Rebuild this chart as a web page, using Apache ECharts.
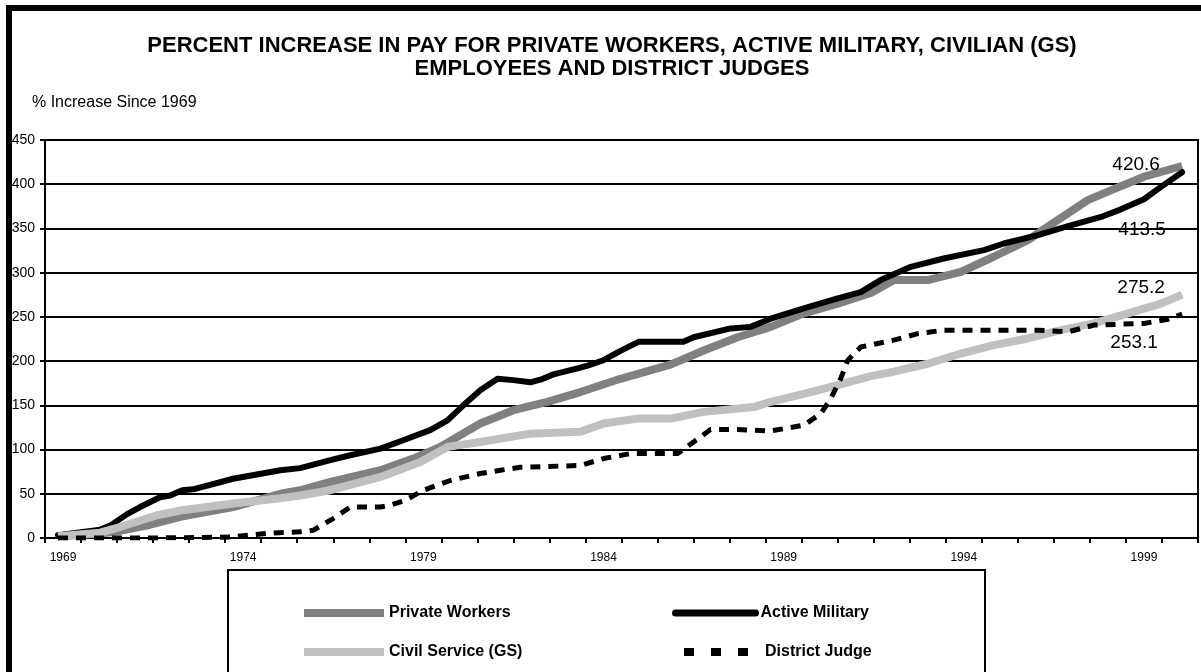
<!DOCTYPE html>
<html>
<head>
<meta charset="utf-8">
<script src="https://cdn.jsdelivr.net/npm/echarts@6/dist/echarts.min.js"></script>
<style>
  html, body { margin: 0; padding: 0; background: #fff; }
  #chart { width: 1201px; height: 672px; }
</style>
</head>
<body>
<div id="chart"></div>
<script>
// year categories for the axis ticks / labels
const yearLabels = ['1969','1970','1971','1972','1973','1974','1975','1976','1977','1978',
  '1979','1980','1981','1982','1983','1984','1985','1986','1987','1988','1989','1990',
  '1991','1992','1993','1994','1995','1996','1997','1998','1999','2000'];

// Private workers
const privateYears = [1969.36, 1970.53, 1971.08, 1971.92, 1972.75, 1974.22, 1975.53, 1976.08, 1976.92, 1978.31,
  1979.22, 1979.97, 1981.08, 1982.0, 1982.94, 1983.86, 1984.97, 1986.36, 1987.28, 1988.22,
  1989.14, 1990.06, 1991.0, 1991.92, 1992.56, 1993.5, 1994.42, 1995.33, 1996.28, 1996.83,
  1997.39, 1997.94, 1998.58, 1999.5, 2000.56];
const privateValues = [2, 5, 8, 15, 24, 35, 50, 54, 63.4, 76.6,
  89.8, 103, 129.4, 144.5, 154, 165, 180, 196, 212, 227,
  238.7, 254, 265, 277, 291.6, 291.6, 301, 318, 336.8, 352,
  367, 382, 393, 408.5, 420.6];

// Active military
const militaryYears = [1969.36, 1970.53, 1970.81, 1971.28, 1971.64, 1972.19, 1972.47, 1972.81, 1973.11, 1974.22,
  1975.53, 1976.08, 1976.92, 1977.47, 1978.31, 1978.94, 1979.69, 1980.17, 1980.61, 1981.08,
  1981.56, 1982.0, 1982.47, 1982.75, 1983.11, 1983.78, 1984.06, 1984.5, 1984.97, 1985.47,
  1986.72, 1987.0, 1988.03, 1988.58, 1989.14, 1990.06, 1991.0, 1991.64, 1992.19, 1993.03,
  1993.94, 1995.06, 1995.61, 1996.56, 1997.39, 1998.31, 1998.86, 1999.5, 1999.97, 2000.56];
const militaryValues = [3, 9.5, 14, 27, 35, 46, 48, 54, 55, 67,
  76.6, 79, 88, 93.6, 101, 110.5, 122, 133, 150, 167,
  180, 178.5, 176, 179, 185, 191.7, 195, 201, 211.6, 221.8,
  221.8, 227, 237, 238.7, 248, 259.6, 271, 278, 291.6, 306.6,
  316, 325.5, 333, 342.5, 352.7, 363, 371.6, 383, 397, 413.5];

// Civil service (GS)
const civilYears = [1969.36, 1970.53, 1971.08, 1972.11, 1972.75, 1974.22, 1975.53, 1976.08, 1976.92, 1978.31,
  1979.42, 1980.17, 1981.08, 1982.47, 1983.86, 1984.5, 1985.44, 1986.36, 1987.28, 1988.67,
  1989.14, 1990.06, 1991.0, 1991.92, 1992.56, 1993.5, 1994.42, 1995.33, 1996.28, 1997.19,
  1998.11, 1999.06, 1999.97, 2000.56];
const civilValues = [2, 6, 12.4, 25.7, 31, 39, 45, 48, 54, 69,
  86, 103, 108.6, 118, 120, 129.4, 135, 135, 142.6, 148,
  154, 163, 172.8, 183, 188, 197, 208.6, 218, 225.6, 235,
  242.6, 254, 265, 275.2];

// District judges
const judgeYears = [1969.36, 1971.92, 1974.14, 1975.17, 1976.08, 1976.44, 1977.0, 1977.47, 1978.31, 1978.58,
  1979.0, 1979.5, 1980.25, 1981.08, 1981.64, 1982.19, 1983.86, 1984.5, 1985.25, 1986.56,
  1987.0, 1987.47, 1988.22, 1989.14, 1990.06, 1990.53, 1990.81, 1991.08, 1991.28, 1991.64,
  1992.56, 1993.22, 1993.94, 1996.56, 1997.39, 1998.11, 1999.5, 2000.17, 2000.56];
const judgeValues = [0, 0, 1, 5.3, 7, 8.7, 22, 35, 35, 37,
  42.6, 54, 65, 72.9, 76.6, 80, 82, 89.8, 95.5, 95.5,
  108.6, 122.6, 122.6, 121, 127.5, 140.7, 157.7, 180, 201, 216,
  223.7, 231, 235, 235, 233, 240.7, 242.6, 247.4, 253.1];

const FONT = '"Liberation Sans", Arial, sans-serif';

function pairs(xs, ys) {
  return xs.map((x, i) => [x, ys[i]]);
}

function endMark(xs, ys, offset) {
  const i = xs.length - 1;
  return {
    symbol: 'rect',
    symbolSize: 1,
    itemStyle: { color: 'rgba(0,0,0,0)' },
    label: {
      show: true,
      position: 'inside',
      offset: offset,
      color: '#000',
      fontSize: 19,
      fontFamily: FONT,
      formatter: (p) => p.value.toFixed(1)
    },
    data: [{ coord: [xs[i], ys[i]], value: ys[i] }]
  };
}

// one legend box per entry so every item sits where the original has it
function legendAt(name, left, top, lineStyle) {
  return {
    data: [name],
    left: left,
    top: top,
    padding: 0,
    itemWidth: 80,
    itemHeight: 14,
    selectedMode: false,
    itemStyle: { opacity: 0 },
    lineStyle: lineStyle,
    textStyle: { color: '#000', fontSize: 16, fontWeight: 'bold', fontFamily: FONT }
  };
}

const chart = echarts.init(document.getElementById('chart'));

chart.setOption({
  backgroundColor: '#fff',
  animation: false,
  title: [
    {
      text: 'PERCENT INCREASE IN PAY FOR PRIVATE WORKERS, ACTIVE MILITARY, CIVILIAN (GS)\nEMPLOYEES AND DISTRICT JUDGES',
      left: 612,
      top: 34,
      textAlign: 'center',
      padding: 0,
      textStyle: { fontSize: 22, fontWeight: 'bold', color: '#000', fontFamily: FONT, lineHeight: 23 }
    },
    {
      text: '% Increase Since 1969',
      left: 32,
      top: 95,
      padding: 0,
      textStyle: { fontSize: 16, fontWeight: 'normal', color: '#000', fontFamily: FONT }
    }
  ],
  legend: [
    legendAt('Private Workers', 300, 605, { width: 8 }),
    legendAt('Active Military', 672, 605, { width: 7, cap: 'round' }),
    legendAt('Civil Service (GS)', 300, 644, { width: 8 }),
    legendAt('District Judge', 676, 644, { width: 8, type: [10, 17], dashOffset: -4 })
  ],
  grid: {
    left: 45,
    right: 3,
    top: 140,
    bottom: 134,
    show: true,
    borderColor: '#000',
    borderWidth: 2,
    backgroundColor: 'transparent'
  },
  xAxis: [
    {
      type: 'category',
      data: yearLabels,
      boundaryGap: true,
      axisLine: { lineStyle: { color: '#000', width: 2 } },
      axisTick: { show: true, interval: 0, length: 5, lineStyle: { color: '#000', width: 2 } },
      axisLabel: { interval: 4, color: '#000', fontSize: 12, fontFamily: FONT, margin: 14 },
      splitLine: { show: false }
    },
    {
      type: 'value',
      min: 1969,
      max: 2001,
      show: false
    }
  ],
  yAxis: {
    type: 'value',
    min: 0,
    max: 450,
    interval: 50,
    axisLine: { show: true, lineStyle: { color: '#000', width: 2 } },
    axisTick: { show: true, length: 5, lineStyle: { color: '#000', width: 2 } },
    axisLabel: { color: '#000', fontSize: 14, fontFamily: FONT, margin: 10 },
    splitLine: { show: true, lineStyle: { color: '#000', width: 2 } }
  },
  series: [
    {
      name: 'Private Workers',
      type: 'line',
      xAxisIndex: 1,
      data: pairs(privateYears, privateValues),
      symbol: 'none',
      color: '#808080',
      lineStyle: { color: '#808080', width: 8 },
      markPoint: endMark(privateYears, privateValues, [-46, -1])
    },
    {
      name: 'Active Military',
      type: 'line',
      xAxisIndex: 1,
      data: pairs(militaryYears, militaryValues),
      symbol: 'none',
      color: '#000',
      lineStyle: { color: '#000', width: 6, cap: 'round', join: 'round' },
      markPoint: endMark(militaryYears, militaryValues, [-40, 57])
    },
    {
      name: 'Civil Service (GS)',
      type: 'line',
      xAxisIndex: 1,
      data: pairs(civilYears, civilValues),
      symbol: 'none',
      color: '#c0c0c0',
      lineStyle: { color: '#c0c0c0', width: 8 },
      markPoint: endMark(civilYears, civilValues, [-41, -7])
    },
    {
      name: 'District Judge',
      type: 'line',
      xAxisIndex: 1,
      data: pairs(judgeYears, judgeValues),
      symbol: 'none',
      color: '#000',
      lineStyle: { color: '#000', width: 5, type: [10, 8] },
      markPoint: endMark(judgeYears, judgeValues, [-48, 29])
    }
  ],
  graphic: [
    {
      type: 'rect',
      silent: true,
      z: 100,
      shape: { x: 9, y: 8, width: 1240, height: 720 },
      style: { fill: 'none', stroke: '#000', lineWidth: 6 }
    },
    {
      type: 'rect',
      silent: true,
      z: 100,
      shape: { x: 228, y: 570, width: 757, height: 130 },
      style: { fill: 'none', stroke: '#000', lineWidth: 2 }
    }
  ]
});
</script>
</body>
</html>
